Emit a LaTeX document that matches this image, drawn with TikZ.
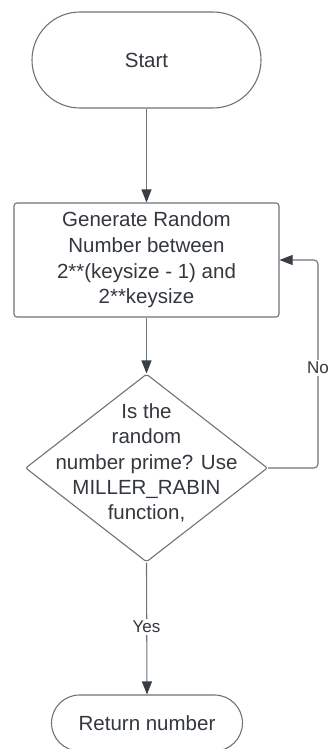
\documentclass[tikz,border=0pt]{standalone}
\usepackage{fontspec}
\setmainfont{Liberation Sans}
\usetikzlibrary{shapes.geometric,arrows.meta}
\definecolor{edgec}{RGB}{112,115,121}
\definecolor{tipc}{RGB}{56,62,70}
\definecolor{txtc}{RGB}{51,55,62}
\tikzset{
  base/.style={draw=edgec, line width=1.1pt, text=txtc, align=center,
    font=\fontsize{20.5}{25.6}\selectfont, inner sep=0pt},
  terminal/.style={base, rounded rectangle},
  process/.style={base, rectangle, rounded corners=3pt,
    minimum width=265pt, minimum height=114pt},
  decision/.style={base, diamond, rounded corners=2pt,
    minimum width=242pt, minimum height=188pt},
  txt/.style={text=txtc, align=center, inner sep=0pt,
    font=\fontsize{20.5}{25.2}\selectfont},
  lbl/.style={text=txtc, fill=white, inner sep=2pt,
    font=\fontsize{17}{20}\selectfont},
  flow/.style={draw=edgec, line width=1.1pt,
    -{Triangle[length=13pt,width=10pt,color=tipc]}},
}
\usetikzlibrary{shapes.misc}
\begin{document}
\begin{tikzpicture}[x=1pt,y=-1pt]
\useasboundingbox (0,0) rectangle (329,749);
\clip (0,0) rectangle (329,749);
\fill[white] (0,0) rectangle (329,749);

% start / end terminals
\node[terminal, minimum width=229pt, minimum height=96pt] (start) at (146.5,60) {Start};
\node[terminal, minimum width=191pt, minimum height=56pt] (ret) at (147,723) {Return number};

% random number generation step
\node[process] (gen) at (146.5,260)
  {Generate Random\\Number between\\2**(keysize - 1) and\\2**keysize};

% primality test
\node[decision] (dec) at (146.5,468) {};
\node[txt] (dectext) at (146.5,463)
  {Is the\\random\\number prime? Use\\MILLER\_RABIN\\function,};

% connectors
\draw[flow] (start.south) -- (gen.north);
\draw[flow] (gen.south) -- (dec.north);
\draw[flow] (dec.south) -- (ret.north);
\coordinate (loop) at (318,468);
\draw[flow, rounded corners=4pt] (dec.east) -- (loop) |- (gen.east);

% branch labels
\node[lbl] (yes) at (146.5,627) {Yes};
\node[lbl] (no) at (318,368) {No};
\end{tikzpicture}
\end{document}
